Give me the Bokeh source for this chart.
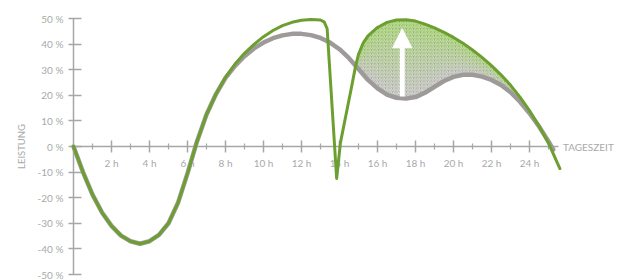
from bokeh.plotting import figure
from bokeh.models import FixedTicker, Label, Arrow, NormalHead
from bokeh.embed import file_html
from bokeh.resources import INLINE
import numpy as np

# ---- data ----
green_hours = [0, 0.5, 1, 1.5, 2, 2.5, 3, 3.5, 4, 4.5, 5, 5.5, 6, 6.5, 7, 7.5, 8, 8.5, 9, 9.5,
               10, 10.5, 11, 11.5, 12, 12.5, 13, 13.2, 13.35, 13.85, 14.05, 14.6, 14.85, 15, 15.25,
               15.5, 16, 16.5, 17, 17.5, 18, 18.5, 19, 19.5, 20, 20.5, 21, 21.5, 22, 22.5, 23,
               23.5, 24, 24.5, 25, 25.6]
green_values = [0, -10, -18.8, -25.8, -31, -34.8, -37, -38, -37, -34.5, -30, -22, -10.5, 2,
                12.5, 20.5, 27, 32.2, 36.4, 39.9, 42.9, 45.3, 47.2, 48.5, 49.3, 49.6, 49.4, 48.6,
                46, -12.5, 1.5, 22, 31.5, 36, 40.5, 43.2, 46.5, 48.5, 49.4, 49.5, 49, 47.8, 46.3,
                44.6, 42.6, 40.3, 37.7, 34.8, 31.6, 28, 24, 19.3, 14, 8, 1.3, -8.6]

gray_hours = [0, 0.5, 1, 1.5, 2, 2.5, 3, 3.5, 4, 4.5, 5, 5.5, 6, 6.5, 7, 7.5, 8, 8.5, 9, 9.5,
              10, 10.5, 11, 11.5, 12, 12.5, 13, 13.5, 14, 14.5, 14.85, 15, 15.5, 16, 16.5, 17,
              17.5, 18, 18.5, 19, 19.5, 20, 20.5, 21, 21.5, 22, 22.5, 23, 23.5, 24, 24.5, 25,
              25.25]
gray_values = [0, -10, -18.8, -25.8, -31, -34.8, -37, -38, -37, -34.5, -30, -22, -10.5, 2,
               12.5, 20.5, 26.8, 31.5, 35.3, 38.3, 40.6, 42.3, 43.4, 44, 44, 43.5, 42.4, 40.6,
               38, 34.5, 31.5, 30.3, 26, 22.7, 20.3, 19, 18.7, 19.3, 21, 23.3, 25.6, 27.2, 28,
               28, 27.3, 26, 24, 21.2, 17.5, 13, 7.8, 2, -1.2]

x_ticks = [2, 4, 6, 8, 10, 12, 14, 16, 18, 20, 22, 24]
x_minor_ticks = [1, 3, 5, 7, 9, 11, 13, 15, 17, 19, 21, 23, 25]
x_labels = ["2 h", "4 h", "6 h", "8 h", "10 h", "12 h", "14 h", "16 h", "18 h", "20 h", "22 h", "24 h"]
y_ticks = [-50, -40, -30, -20, -10, 0, 10, 20, 30, 40, 50]
y_labels = ["-50 %", "-40 %", "-30 %", "-20 %", "-10 %", "0 %", "10 %", "20 %", "30 %", "40 %", "50 %"]
x_axis_end = 25.5          # hour where the time axis stops
y_axis_span = (-50, 50)    # extent of the performance axis

fill_start_hour = 14.85
arrow_hour, arrow_from, arrow_to = 17.3, 19.5, 46

FONT = "Lato"
TXT = "#a9a9a9"
AXIS = "#a6a6a6"
GREEN = "#6c9f30"
GRAY = "#9d9a99"

W, H = 624, 280
PX_PER_H, PX_PER_PCT = 19.0, 2.56
X0_PX, Y0_PX = 73, 146   # where the axes cross on the canvas
x_range = (-X0_PX / PX_PER_H, (W - X0_PX) / PX_PER_H)
y_range = (-(H - Y0_PX) / PX_PER_PCT, Y0_PX / PX_PER_PCT)

p = figure(width=W, height=H, x_range=x_range, y_range=y_range,
           output_backend="svg", toolbar_location=None,
           min_border_left=0, min_border_right=0, min_border_top=0, min_border_bottom=0)
p.outline_line_color = None
p.grid.visible = False
p.background_fill_color = "white"
p.border_fill_color = "white"

# axes crossing at (0 h, 0 %)
p.xaxis.fixed_location = 0
p.yaxis.fixed_location = 0
p.xaxis.bounds = (0, x_axis_end)
p.yaxis.bounds = y_axis_span
for ax in (p.xaxis, p.yaxis):
    ax.level = "underlay"
    ax.axis_line_color = AXIS
    ax.axis_line_width = 1.5
    ax.major_tick_line_color = AXIS
    ax.major_tick_line_width = 1.5
    ax.minor_tick_line_color = AXIS
    ax.minor_tick_line_width = 1.2
    ax.major_label_text_color = TXT
    ax.major_label_text_font = FONT
    ax.major_label_text_font_size = "10px"

p.xaxis.ticker = FixedTicker(ticks=x_ticks, minor_ticks=x_minor_ticks)
p.xaxis.major_label_overrides = dict(zip(x_ticks, x_labels))
p.xaxis.major_tick_in = 6
p.xaxis.major_tick_out = 6
p.xaxis.minor_tick_in = 3
p.xaxis.minor_tick_out = 3
p.xaxis.major_label_standoff = 4

p.yaxis.ticker = FixedTicker(ticks=y_ticks, minor_ticks=[])
p.yaxis.major_label_overrides = dict(zip(y_ticks, y_labels))
p.yaxis.major_tick_in = 8
p.yaxis.major_tick_out = 5
p.yaxis.minor_tick_line_color = None
p.yaxis.major_label_standoff = 5
p.yaxis.axis_label = "LEISTUNG"
p.yaxis.axis_label_text_font = FONT
p.yaxis.axis_label_text_font_size = "9.5px"
p.yaxis.axis_label_text_font_style = "normal"
p.yaxis.axis_label_text_color = TXT
p.yaxis.axis_label_standoff = 8

# ---- shaded gain region between the curves ----
gdict = dict(zip(green_hours, green_values))
rdict = dict(zip(gray_hours, gray_values))
fh = np.array(sorted(h for h in set(green_hours) & set(gray_hours) if h >= fill_start_hour))
lo = np.array([rdict[h] for h in fh])
hi = np.maximum(np.array([gdict[h] for h in fh]), lo)
d = hi - lo
n = 12
c0 = np.array([170, 170, 166])
c1 = np.array([132, 186, 70])
for i in range(n):
    t = i / (n - 1)
    c = (c0 * (1 - t) + c1 * t).astype(int)
    p.varea(x=fh, y1=lo + d * i / n, y2=hi, fill_color="#%02x%02x%02x" % tuple(c), fill_alpha=1)
p.varea(x=fh, y1=lo, y2=hi, fill_alpha=0, hatch_pattern="/", hatch_color="white",
        hatch_alpha=0.6, hatch_scale=3.5, hatch_weight=1)

# ---- curves ----
p.line(gray_hours, gray_values, line_color=GRAY, line_width=4.5, line_join="round", line_cap="round")
p.line(green_hours, green_values, line_color=GREEN, line_width=3, line_join="round", line_cap="round")

# ---- arrow ----
p.add_layout(Arrow(end=NormalHead(size=19, fill_color="white", line_color="white", line_width=1),
                   x_start=arrow_hour, y_start=arrow_from, x_end=arrow_hour, y_end=arrow_to,
                   line_color="white", line_width=5))

# ---- x axis title ----
p.add_layout(Label(x=x_axis_end, y=0, x_offset=5, text="TAGESZEIT", text_font=FONT,
                   text_font_size="10px", text_color=TXT, text_baseline="middle", text_align="left"))

open("out.html", "w").write(file_html(p, INLINE))
